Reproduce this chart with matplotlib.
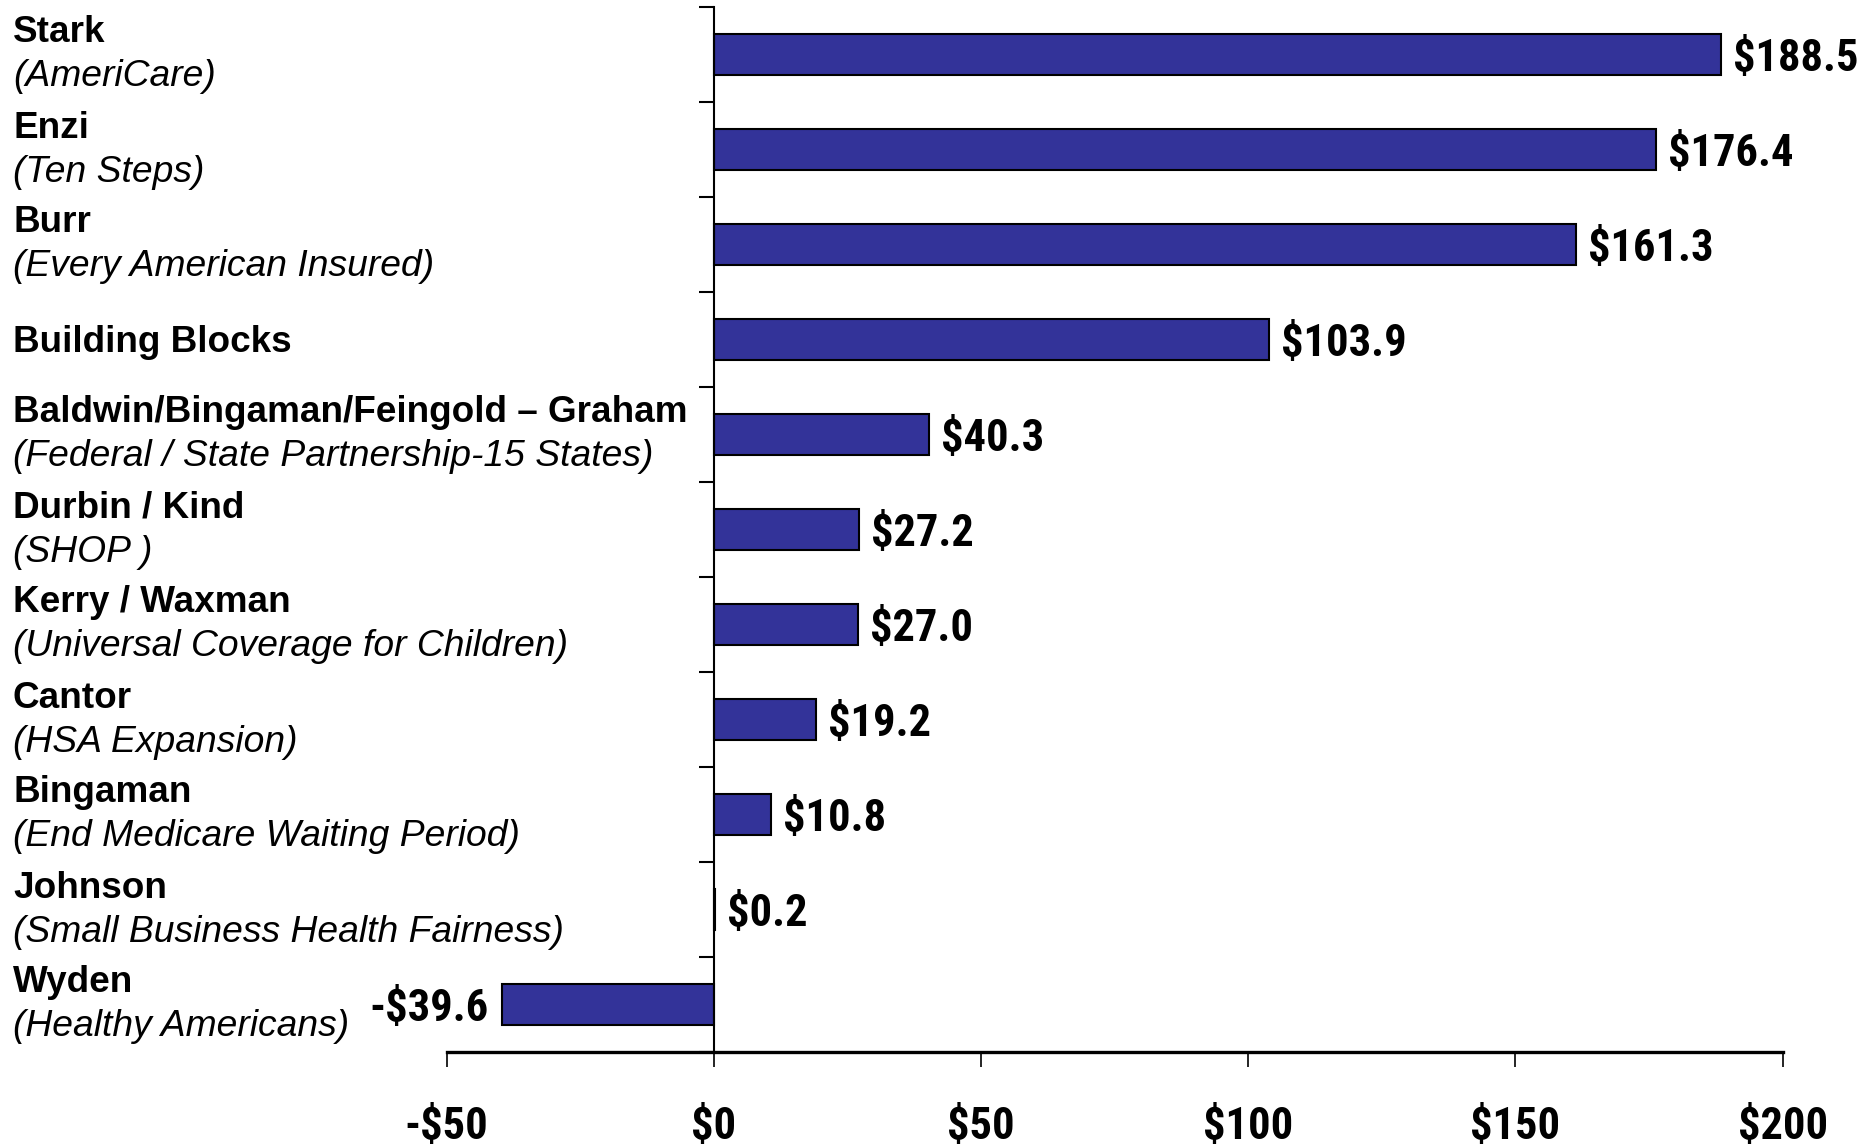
import matplotlib
matplotlib.use("Agg")
import matplotlib.pyplot as plt
from matplotlib import font_manager
from matplotlib.font_manager import FontProperties
from matplotlib.transforms import offset_copy, blended_transform_factory

# Cost per proposal ($ billions)
names = ["Stark", "Enzi", "Burr", "Building Blocks",
         "Baldwin/Bingaman/Feingold \u2013 Graham", "Durbin / Kind",
         "Kerry / Waxman", "Cantor", "Bingaman", "Johnson", "Wyden"]
programs = ["(AmeriCare)", "(Ten Steps)", "(Every American Insured)", "",
            "(Federal / State Partnership-15 States)", "(SHOP )",
            "(Universal Coverage for Children)", "(HSA Expansion)",
            "(End Medicare Waiting Period)", "(Small Business Health Fairness)",
            "(Healthy Americans)"]
costs = [188.5, 176.4, 161.3, 103.9, 40.3, 27.2, 27.0, 19.2, 10.8, 0.2, -39.6]
tick_values = [-50, 0, 50, 100, 150, 200]


def money(v, decimals):
    s = f"${abs(v):.{decimals}f}"
    return "-" + s if v < 0 else s


def narrow_bold(size):
    """Bold condensed grotesque face for the dollar figures."""
    wanted = ["Liberation Sans Narrow", "Arial Narrow", "Roboto Condensed",
              "IBM Plex Sans Condensed", "Encode Sans Condensed",
              "Barlow Condensed", "PT Sans Narrow"]
    fonts = font_manager.fontManager.ttflist
    for fam in wanted:
        for f in fonts:
            if f.name == fam and f.style == "normal" and int(f.weight) == 700 \
                    and "[" not in f.fname:
                return FontProperties(fname=f.fname, size=size)
    return FontProperties(family="Liberation Sans", weight="bold", size=size)


plt.rcParams["font.family"] = ["Liberation Sans", "DejaVu Sans"]

W, H = 1862, 1147
fig = plt.figure(figsize=(W / 100, H / 100), dpi=100)
x0, x1, ytop, ybot = 446.5, 1782.6, 7, 1052
ax = fig.add_axes([x0 / W, 1 - ybot / H, (x1 - x0) / W, (ybot - ytop) / H])

ypos = list(range(len(names)))
ax.barh(ypos, costs, height=0.44, color="#333399", edgecolor="black",
        linewidth=1.5, zorder=2)

ax.set_xlim(-50, 200)
ax.set_ylim(len(names) - 0.5, -0.5)
for side in ("top", "right"):
    ax.spines[side].set_visible(False)
ax.spines["left"].set_position(("data", 0))
ax.spines["left"].set_linewidth(1.5)
ax.spines["bottom"].set_linewidth(2.4)

ax.set_yticks([i - 0.5 for i in range(len(names) + 1)])
ax.set_yticklabels([])
ax.tick_params(axis="y", direction="out", length=11, width=1.5)

value_font = narrow_bold(32)
ax.set_xticks(tick_values)
ax.set_xticklabels([money(v, 0) for v in tick_values], fontproperties=value_font)
ax.tick_params(axis="x", direction="out", length=11, width=1.2, pad=28)

# Value labels beside each bar
for yi, v in zip(ypos, costs):
    dx, ha = (12, "left") if v >= 0 else (-13, "right")
    tr = offset_copy(ax.transData, fig=fig, x=dx, y=-16.5, units="dots")
    ax.text(v, yi, money(v, 1), transform=tr, ha=ha, va="baseline",
            fontproperties=value_font)

# Category labels at the left edge
base = blended_transform_factory(fig.transFigure, ax.transData)
lx = 13 / W
for yi, name, prog in zip(ypos, names, programs):
    if prog:
        ax.text(lx, yi, name, transform=offset_copy(base, fig=fig, y=12, units="dots"),
                ha="left", va="baseline", fontsize=26.6, fontweight="bold", clip_on=False)
        ax.text(lx, yi, prog, transform=offset_copy(base, fig=fig, y=-32, units="dots"),
                ha="left", va="baseline", fontsize=26.8, fontstyle="italic", clip_on=False)
    else:
        ax.text(lx, yi, name, transform=offset_copy(base, fig=fig, y=-12.5, units="dots"),
                ha="left", va="baseline", fontsize=26.6, fontweight="bold", clip_on=False)

fig.savefig("out.png", dpi=100)
